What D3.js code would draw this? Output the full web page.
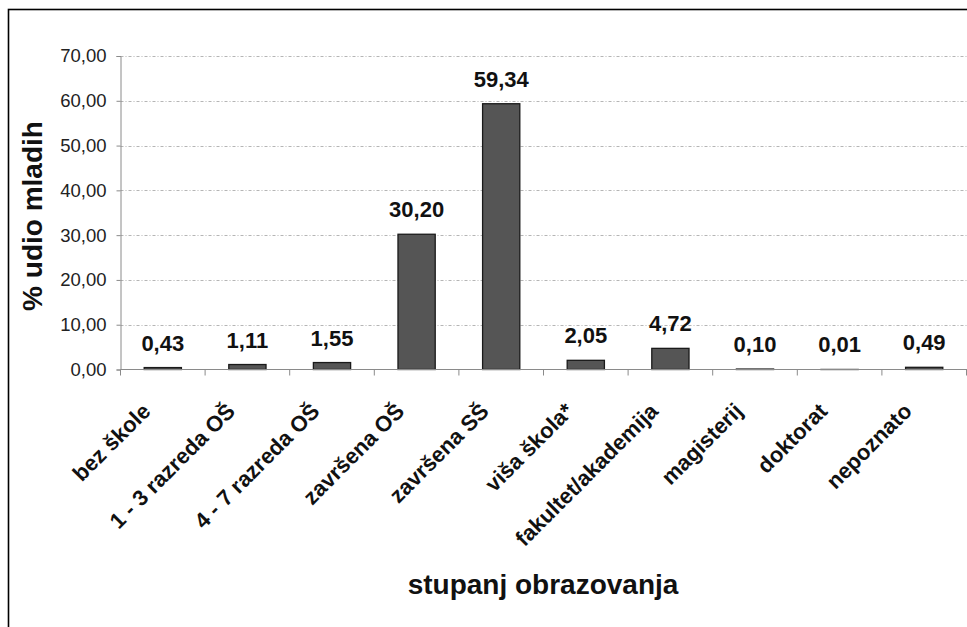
<!DOCTYPE html>
<html>
<head>
<meta charset="utf-8">
<script src="https://cdn.jsdelivr.net/npm/d3@7"></script>
<style>
  body { margin: 0; background: #fff; }
  svg { display: block; font-family: "Liberation Sans", Arial, sans-serif; }
</style>
</head>
<body>
<div id="chart"></div>
<script>
const categories = ["bez škole", "1 - 3 razreda OŠ", "4 - 7 razreda OŠ", "završena OŠ", "završena SŠ",
  "viša škola*", "fakultet/akademija", "magisterij", "doktorat", "nepoznato"];
const values = [0.43, 1.11, 1.55, 30.20, 59.34, 2.05, 4.72, 0.10, 0.01, 0.49];
const yTicks = [0, 10, 20, 30, 40, 50, 60, 70];

const width = 967, height = 627;
const margin = { left: 120.5, right: 0.5, top: 56, bottom: 258 };

const svg = d3.select("#chart").append("svg")
  .attr("width", width)
  .attr("height", height);

// outer frame
svg.append("rect")
  .attr("x", 8.5).attr("y", 9.5)
  .attr("width", width + 20).attr("height", height + 20)
  .attr("fill", "none")
  .attr("stroke", "#000")
  .attr("stroke-width", 1.6);

const x = d3.scaleBand()
  .domain(categories)
  .range([margin.left, width - margin.right])
  .paddingInner(0.56)
  .paddingOuter(0.28);

const y = d3.scaleLinear()
  .domain([0, 70])
  .range([height - margin.bottom + 0.5, margin.top]);

const fmt = v => d3.format(".2f")(v).replace(".", ",");

// gridlines
svg.append("g").selectAll("line")
  .data(yTicks.filter(d => d > 0))
  .enter().append("line")
  .attr("x1", margin.left)
  .attr("x2", width)
  .attr("y1", d => Math.round(y(d)) + 0.5)
  .attr("y2", d => Math.round(y(d)) + 0.5)
  .attr("stroke", "#b5b5b5")
  .attr("stroke-width", 1)
  .attr("stroke-dasharray", "3,2,1,2");

// y axis
const yAxis = svg.append("g")
  .attr("transform", `translate(${margin.left},0)`)
  .call(d3.axisLeft(y).tickValues(yTicks).tickSize(4).tickPadding(10).tickFormat(fmt));
yAxis.select(".domain").attr("stroke", "#8a8a8a");
yAxis.selectAll(".tick line").attr("stroke", "#8a8a8a");
yAxis.selectAll("text")
  .attr("font-size", 18.5)
  .attr("fill", "#222")
  .attr("font-family", "Liberation Sans, Arial, sans-serif");

// bars
svg.append("g").selectAll("rect")
  .data(values)
  .enter().append("rect")
  .attr("x", (d, i) => x(categories[i]))
  .attr("y", d => y(d))
  .attr("width", x.bandwidth())
  .attr("height", d => y(0) - y(d))
  .attr("fill", "#555")
  .attr("stroke", "#1a1a1a")
  .attr("stroke-width", 1.3);

// x axis
const bandStep = x.step();
const xAxisG = svg.append("g");
xAxisG.append("line")
  .attr("x1", margin.left).attr("x2", width)
  .attr("y1", y(0)).attr("y2", y(0))
  .attr("stroke", "#8a8a8a");
xAxisG.selectAll("line.tick")
  .data(d3.range(categories.length + 1))
  .enter().append("line")
  .attr("class", "tick")
  .attr("x1", i => margin.left + i * bandStep)
  .attr("x2", i => margin.left + i * bandStep)
  .attr("y1", y(0)).attr("y2", y(0) + 6)
  .attr("stroke", "#8a8a8a");

// value labels
svg.append("g").selectAll("text")
  .data(values)
  .enter().append("text")
  .attr("x", (d, i) => x(categories[i]) + x.bandwidth() / 2)
  .attr("y", d => y(d) - 17)
  .attr("text-anchor", "middle")
  .attr("font-size", 22)
  .attr("font-weight", "bold")
  .attr("fill", "#111")
  .text(d => fmt(d));

// category labels
svg.append("g").selectAll("text")
  .data(categories)
  .enter().append("text")
  .attr("transform", d => `translate(${x(d) + x.bandwidth() / 2 - 11},${y(0) + 43}) rotate(-45)`)
  .attr("text-anchor", "end")
  .attr("font-size", 22)
  .attr("font-weight", "bold")
  .attr("fill", "#111")
  .text(d => d);

// axis titles
svg.append("text")
  .attr("transform", `translate(42,216) rotate(-90)`)
  .attr("text-anchor", "middle")
  .attr("font-size", 28)
  .attr("font-weight", "bold")
  .attr("fill", "#111")
  .text("% udio mladih");

svg.append("text")
  .attr("x", 543)
  .attr("y", 594)
  .attr("text-anchor", "middle")
  .attr("font-size", 28)
  .attr("font-weight", "bold")
  .attr("fill", "#111")
  .text("stupanj obrazovanja");
</script>
</body>
</html>
